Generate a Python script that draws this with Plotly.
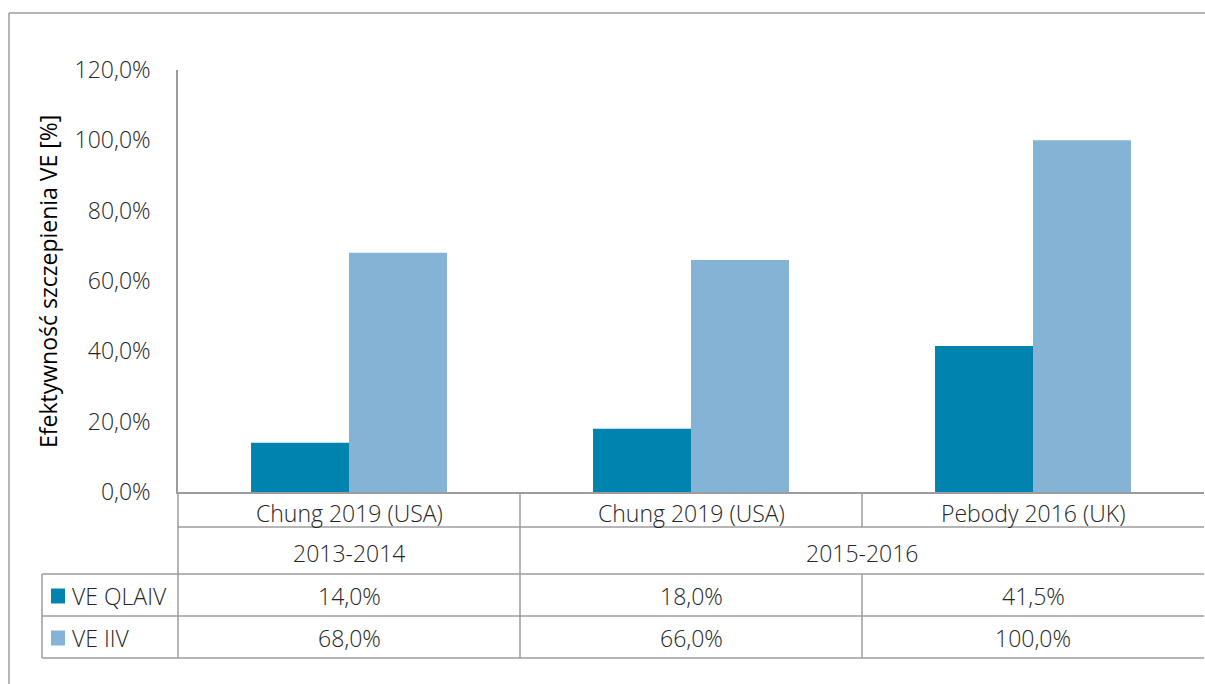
import plotly.graph_objects as go

# Data
studies = ["Chung 2019 (USA)", "Chung 2019 (USA)", "Pebody 2016 (UK)"]
seasons = ["2013-2014", "2015-2016"]
season_span = [(0, 0), (1, 2)]  # category index range covered by each season
series_names = ["VE QLAIV", "VE IIV"]
ve_qlaiv = [0.14, 0.18, 0.415]
ve_iiv = [0.68, 0.66, 1.00]
y_ticks = [0, 0.2, 0.4, 0.6, 0.8, 1.0, 1.2]

colors = ["#0083AF", "#85B3D6"]
line_col = "#9C9C9C"
txt_col = "#262626"

W, H = 1205, 684
L, R, T, B = 178, 1, 70, 192
pw, ph = W - L - R, H - T - B
FONT = "Open Sans"
FS = 23


def px_x(p):
    return (p - L) / pw


def px_y(p):
    return (H - B - p) / ph


fig = go.Figure()
for name, vals, col in zip(series_names, [ve_qlaiv, ve_iiv], colors):
    fig.add_trace(go.Bar(x=list(range(len(studies))), y=vals, name=name,
                         marker=dict(color=col, line=dict(width=0)), showlegend=False))

shapes = []
annotations = []

# Frame around the chart
shapes.append(dict(type="line", xref="paper", yref="paper", x0=px_x(9), x1=px_x(1210),
                   y0=px_y(13), y1=px_y(13), line=dict(color=line_col, width=1.5)))
shapes.append(dict(type="line", xref="paper", yref="paper", x0=px_x(9), x1=px_x(9),
                   y0=px_y(13), y1=px_y(690), line=dict(color=line_col, width=1.5)))

# Data table grid
row_edges = [492, 527, 574, 616, 658]
rows_y = [px_y(v) for v in row_edges]
n = len(studies)
# horizontal lines
shapes.append(dict(type="line", xref="paper", yref="paper", x0=0, x1=1,
                   y0=rows_y[1], y1=rows_y[1], line=dict(color=line_col, width=1.5)))
for ry in rows_y[2:]:
    shapes.append(dict(type="line", xref="paper", yref="paper", x0=px_x(42), x1=1,
                       y0=ry, y1=ry, line=dict(color=line_col, width=1.5)))
# vertical lines: table left edges
shapes.append(dict(type="line", xref="paper", yref="paper", x0=0, x1=0,
                   y0=rows_y[0], y1=rows_y[4], line=dict(color=line_col, width=1.5)))
shapes.append(dict(type="line", xref="paper", yref="paper", x0=px_x(42), x1=px_x(42),
                   y0=rows_y[2], y1=rows_y[4], line=dict(color=line_col, width=1.5)))
# vertical lines between categories
season_breaks = {s[0] - 0.5 for s in season_span if s[0] > 0}
for i in range(1, n):
    xb = i - 0.5
    if xb in season_breaks:
        shapes.append(dict(type="line", xref="x", yref="paper", x0=xb, x1=xb,
                           y0=rows_y[0], y1=rows_y[4], line=dict(color=line_col, width=1.5)))
    else:
        shapes.append(dict(type="line", xref="x", yref="paper", x0=xb, x1=xb,
                           y0=rows_y[0], y1=rows_y[1], line=dict(color=line_col, width=1.5)))
        shapes.append(dict(type="line", xref="x", yref="paper", x0=xb, x1=xb,
                           y0=rows_y[2], y1=rows_y[4], line=dict(color=line_col, width=1.5)))

tfont = dict(family=FONT, size=FS, color=txt_col, weight=300)


def fmt(v):
    return f"{v * 100:.1f}%".replace(".", ",")


def row_mid(k):
    return (rows_y[k] + rows_y[k + 1]) / 2


for i, s in enumerate(studies):
    annotations.append(dict(x=i, y=row_mid(0), xref="x", yref="paper", text=s,
                            showarrow=False, font=tfont, yanchor="middle", yshift=-3))
for s, (a, b) in zip(seasons, season_span):
    annotations.append(dict(x=(a + b) / 2, y=row_mid(1), xref="x", yref="paper", text=s,
                            showarrow=False, font=tfont, yanchor="middle", yshift=-2))
for k, vals in enumerate([ve_qlaiv, ve_iiv]):
    for i, v in enumerate(vals):
        annotations.append(dict(x=i, y=row_mid(2 + k), xref="x", yref="paper", text=fmt(v),
                                showarrow=False, font=tfont, yanchor="middle", yshift=-1))
    # legend key
    yc = row_mid(2 + k)
    half = 7.5 / ph
    shapes.append(dict(type="rect", xref="paper", yref="paper", x0=px_x(51), x1=px_x(65),
                       y0=yc - half - 1 / ph, y1=yc + half - 1 / ph,
                       fillcolor=colors[k], line=dict(width=0)))
    annotations.append(dict(x=px_x(70), y=yc, xref="paper", yref="paper", text=series_names[k],
                            showarrow=False, font=tfont, xanchor="left", yanchor="middle",
                            yshift=-1))

# Axis title
annotations.append(dict(x=px_x(48), y=px_y(282), xref="paper", yref="paper",
                        text="Efektywność szczepienia VE [%]", textangle=-90, showarrow=False,
                        font=dict(family=FONT, size=FS, color="#000000"),
                        xanchor="center", yanchor="middle"))

fig.update_layout(
    width=W, height=H,
    margin=dict(l=L, r=R, t=T, b=B, pad=0),
    paper_bgcolor="white", plot_bgcolor="white",
    separators=", ",
    barmode="group", bargap=0.427, bargroupgap=0,
    shapes=shapes, annotations=annotations,
    xaxis=dict(range=[-0.5, n - 0.5], showticklabels=False, showgrid=False, zeroline=False,
               showline=True, linecolor=line_col, linewidth=1.5, ticks=""),
    yaxis=dict(range=[0, 1.2], tickvals=y_ticks, tickformat=".1%", showgrid=False,
               zeroline=False, showline=True, linecolor=line_col, linewidth=1.5, ticks="",
               ticklabelstandoff=21, tickfont=tfont),
)

fig.write_html("out.html")
